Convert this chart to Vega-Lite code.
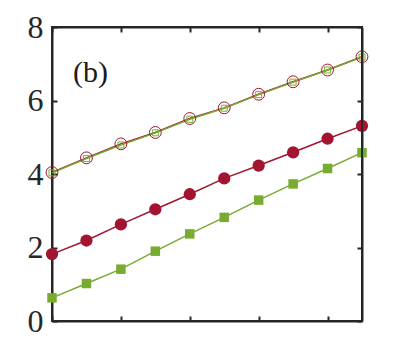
{
  "$schema": "https://vega.github.io/schema/vega-lite/v6.json",
  "autosize": "none",
  "width": 310,
  "height": 294,
  "padding": {"left": 52, "top": 27, "right": 37, "bottom": 39},
  "background": "white",
  "config": {
    "view": {"stroke": "#262626", "strokeWidth": 2},
    "axis": {
      "domainColor": "#262626",
      "domainWidth": 2,
      "tickColor": "#262626",
      "tickWidth": 2,
      "grid": false,
      "labelFont": "Liberation Serif",
      "labelFontSize": 32,
      "labelColor": "#262626",
      "title": null
    }
  },
  "data": {
    "values": [
      {"series": "a_open", "x": 0, "y": 4.04},
      {"series": "a_open", "x": 1, "y": 4.44},
      {"series": "a_open", "x": 2, "y": 4.82},
      {"series": "a_open", "x": 3, "y": 5.13},
      {"series": "a_open", "x": 4, "y": 5.51},
      {"series": "a_open", "x": 5, "y": 5.80},
      {"series": "a_open", "x": 6, "y": 6.17},
      {"series": "a_open", "x": 7, "y": 6.51},
      {"series": "a_open", "x": 8, "y": 6.83},
      {"series": "a_open", "x": 9, "y": 7.19},
      {"series": "b_opensq", "x": 0, "y": 4.03},
      {"series": "b_opensq", "x": 1, "y": 4.42},
      {"series": "b_opensq", "x": 2, "y": 4.79},
      {"series": "b_opensq", "x": 3, "y": 5.12},
      {"series": "b_opensq", "x": 4, "y": 5.49},
      {"series": "b_opensq", "x": 5, "y": 5.79},
      {"series": "b_opensq", "x": 6, "y": 6.16},
      {"series": "b_opensq", "x": 7, "y": 6.50},
      {"series": "b_opensq", "x": 8, "y": 6.83},
      {"series": "b_opensq", "x": 9, "y": 7.18},
      {"series": "c_red", "x": 0, "y": 1.82},
      {"series": "c_red", "x": 1, "y": 2.19},
      {"series": "c_red", "x": 2, "y": 2.63},
      {"series": "c_red", "x": 3, "y": 3.04},
      {"series": "c_red", "x": 4, "y": 3.45},
      {"series": "c_red", "x": 5, "y": 3.88},
      {"series": "c_red", "x": 6, "y": 4.23},
      {"series": "c_red", "x": 7, "y": 4.59},
      {"series": "c_red", "x": 8, "y": 4.96},
      {"series": "c_red", "x": 9, "y": 5.31},
      {"series": "d_green", "x": 0, "y": 0.63},
      {"series": "d_green", "x": 1, "y": 1.02},
      {"series": "d_green", "x": 2, "y": 1.41},
      {"series": "d_green", "x": 3, "y": 1.90},
      {"series": "d_green", "x": 4, "y": 2.37},
      {"series": "d_green", "x": 5, "y": 2.82},
      {"series": "d_green", "x": 6, "y": 3.29},
      {"series": "d_green", "x": 7, "y": 3.73},
      {"series": "d_green", "x": 8, "y": 4.15},
      {"series": "d_green", "x": 9, "y": 4.58}
    ]
  },
  "layer": [
    {
      "mark": {"type": "line", "strokeWidth": 1.5},
      "encoding": {
        "x": {"field": "x", "type": "quantitative", "scale": {"domain": [0, 9], "nice": false, "zero": false},
          "axis": {"orient": "bottom", "values": [0, 2, 4, 6, 8], "labels": false, "tickSize": -5}},
        "y": {"field": "y", "type": "quantitative", "scale": {"domain": [0, 8], "nice": false},
          "axis": {"orient": "left", "values": [0, 2, 4, 6, 8], "labelPadding": 14, "tickSize": -5}},
        "color": {"field": "series", "type": "nominal", "legend": null,
          "scale": {"domain": ["a_open", "b_opensq", "c_red", "d_green"], "range": ["#A2142F", "#77AC30", "#A2142F", "#77AC30"]}}
      }
    },
    {
      "transform": [{"filter": "datum.series === 'c_red'"}],
      "mark": {"type": "circle", "size": 150, "color": "#A2142F", "opacity": 1},
      "encoding": {
        "x": {"field": "x", "type": "quantitative", "axis": {"orient": "top", "values": [0, 2, 4, 6, 8], "labels": false, "tickSize": -5, "domain": true}},
        "y": {"field": "y", "type": "quantitative", "axis": {"orient": "right", "values": [0, 2, 4, 6, 8], "labels": false, "tickSize": -5, "domain": true}}
      }
    },
    {
      "transform": [{"filter": "datum.series === 'd_green'"}],
      "mark": {"type": "square", "size": 90, "color": "#77AC30", "opacity": 1},
      "encoding": {
        "x": {"field": "x", "type": "quantitative", "axis": null},
        "y": {"field": "y", "type": "quantitative", "axis": null}
      }
    },
    {
      "transform": [{"filter": "datum.series === 'a_open'"}],
      "mark": {"type": "point", "shape": "circle", "filled": false, "size": 140, "stroke": "#A2142F", "strokeWidth": 1, "opacity": 1},
      "encoding": {
        "x": {"field": "x", "type": "quantitative", "axis": null},
        "y": {"field": "y", "type": "quantitative", "axis": null}
      }
    },
    {
      "transform": [{"filter": "datum.series === 'b_opensq'"}],
      "mark": {"type": "point", "shape": "square", "filled": false, "size": 36, "stroke": "#77AC30", "strokeWidth": 1, "opacity": 1},
      "encoding": {
        "x": {"field": "x", "type": "quantitative", "axis": null},
        "y": {"field": "y", "type": "quantitative", "axis": null}
      }
    },
    {
      "data": {"values": [{"x": 0.61, "y": 6.75, "label": "(b)"}]},
      "mark": {"type": "text", "align": "left", "baseline": "middle", "font": "Liberation Serif", "fontSize": 30, "color": "#1a1a1a"},
      "encoding": {
        "x": {"field": "x", "type": "quantitative", "axis": null},
        "y": {"field": "y", "type": "quantitative", "axis": null},
        "text": {"field": "label"}
      }
    },
    {
      "mark": {"type": "rule", "color": "#262626", "strokeWidth": 2},
      "encoding": {"y": {"datum": 8, "type": "quantitative", "axis": null}}
    },
    {
      "mark": {"type": "rule", "color": "#262626", "strokeWidth": 2},
      "encoding": {"x": {"datum": 9, "type": "quantitative", "axis": null}}
    }
  ],
  "resolve": {"axis": {"x": "independent", "y": "independent"}}
}
